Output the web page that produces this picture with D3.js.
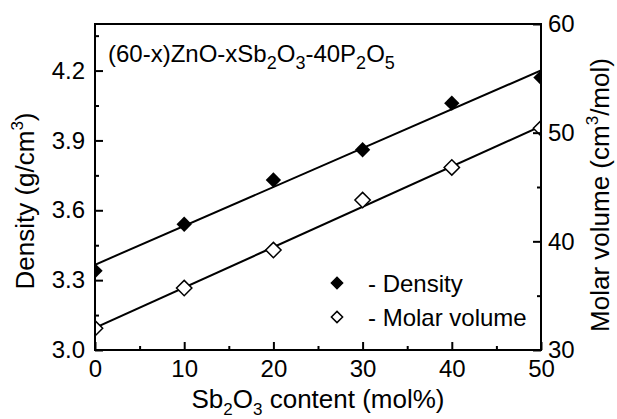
<!DOCTYPE html>
<html>
<head>
<meta charset="utf-8">
<script src="https://cdn.jsdelivr.net/npm/d3@7"></script>
<style>
  body { margin: 0; background: #fff; }
  text { font-family: 'Liberation Sans', Arial, sans-serif; fill: #000; }
</style>
</head>
<body>
<div id="chart"></div>
<script>
// Sb2O3 content (mol%)
const content = [0, 10, 20, 30, 40, 50]
// density g/cm3
const density = [3.34, 3.54, 3.73, 3.86, 4.06, 4.17]
// molar volume cm3/mol
const molarVolume = [32.0, 35.7, 39.2, 43.8, 46.8, 50.4]

const xTicks = [0, 10, 20, 30, 40, 50]
const yLeftTicks = [3.0, 3.3, 3.6, 3.9, 4.2]
const yRightTicks = [30, 40, 50, 60]
const legendItems = ['- Density', '- Molar volume']

const width = 617
const height = 419
const margin = { top: 24, right: 76, bottom: 69, left: 95 }
const w = width - margin.left - margin.right
const h = height - margin.top - margin.bottom

const svg = d3
  .select('#chart')
  .append('svg')
  .attr('width', width)
  .attr('height', height)

const g = svg.append('g').attr('transform', `translate(${margin.left},${margin.top})`)

const x = d3.scaleLinear().domain([0, 50]).range([0, w])
const yL = d3.scaleLinear().domain([3.0, 4.4]).range([h, 0])
const yR = d3.scaleLinear().domain([30, 60]).range([h, 0])

// least squares fit
function fit(xs, ys) {
  const mx = d3.mean(xs)
  const my = d3.mean(ys)
  let sxy = 0
  let sxx = 0
  xs.forEach((v, i) => {
    sxy += (v - mx) * (ys[i] - my)
    sxx += (v - mx) * (v - mx)
  })
  const slope = sxy / sxx
  return (v) => my + slope * (v - mx)
}

g.append('clipPath').attr('id', 'clip').append('rect').attr('width', w).attr('height', h)

const plot = g.append('g').attr('clip-path', 'url(#clip)')

const fitD = fit(content, density)
const fitM = fit(content, molarVolume)

plot
  .append('line')
  .attr('x1', x(0))
  .attr('y1', yL(fitD(0)))
  .attr('x2', x(50))
  .attr('y2', yL(fitD(50)))
  .attr('stroke', '#000')
  .attr('stroke-width', 2)

plot
  .append('line')
  .attr('x1', x(0))
  .attr('y1', yR(fitM(0)))
  .attr('x2', x(50))
  .attr('y2', yR(fitM(50)))
  .attr('stroke', '#000')
  .attr('stroke-width', 2)

const diamond = d3.symbol().type(d3.symbolDiamond2).size(150)

plot
  .selectAll('.dens')
  .data(content)
  .join('path')
  .attr('class', 'dens')
  .attr('d', diamond)
  .attr('transform', (d, i) => `translate(${x(d)},${yL(density[i])})`)
  .attr('fill', '#000')

plot
  .selectAll('.molar')
  .data(content)
  .join('path')
  .attr('class', 'molar')
  .attr('d', diamond)
  .attr('transform', (d, i) => `translate(${x(d)},${yR(molarVolume[i])})`)
  .attr('fill', '#fff')
  .attr('stroke', '#000')
  .attr('stroke-width', 1.5)

// axes, ticks inward
const fs = '24px'
g.append('g')
  .attr('transform', `translate(0,${h})`)
  .call(d3.axisBottom(x).tickValues(xTicks).tickSize(-8).tickPadding(10).tickFormat(d3.format('d')))
g.append('g')
  .attr('transform', `translate(0,${h})`)
  .call(d3.axisBottom(x).tickValues([5, 15, 25, 35, 45]).tickSize(-4).tickFormat(''))

g.append('g').call(d3.axisLeft(yL).tickValues(yLeftTicks).tickSize(-8).tickPadding(10).tickFormat(d3.format('.1f')))
g.append('g').call(d3.axisLeft(yL).tickValues([3.15, 3.45, 3.75, 4.05, 4.35]).tickSize(-4).tickFormat(''))

g.append('g')
  .attr('transform', `translate(${w},0)`)
  .call(d3.axisRight(yR).tickValues(yRightTicks).tickSize(-8).tickPadding(7).tickFormat(d3.format('d')))
g.append('g')
  .attr('transform', `translate(${w},0)`)
  .call(d3.axisRight(yR).tickValues([35, 45, 55]).tickSize(-4).tickFormat(''))

g.selectAll('.tick text').style('font-size', fs).attr('fill', '#000')
g.selectAll('.tick line').attr('stroke', '#000').attr('stroke-width', 2)
g.selectAll('.domain').remove()

// frame
g.append('rect')
  .attr('width', w)
  .attr('height', h)
  .attr('fill', 'none')
  .attr('stroke', '#000')
  .attr('stroke-width', 2)

// title
const title = g.append('text').attr('x', 13).attr('y', 38).style('font-size', '24px')
title.append('tspan').text('(60-x)ZnO-xSb')
title.append('tspan').text('2').style('font-size', '18px').attr('dy', 7)
title.append('tspan').text('O').attr('dy', -7)
title.append('tspan').text('3').style('font-size', '18px').attr('dy', 7)
title.append('tspan').text('-40P').attr('dy', -7)
title.append('tspan').text('2').style('font-size', '18px').attr('dy', 7)
title.append('tspan').text('O').attr('dy', -7)
title.append('tspan').text('5').style('font-size', '18px').attr('dy', 7)

// legend
const legend = g.append('g').attr('transform', `translate(${242},${259})`)
legend
  .selectAll('path')
  .data(legendItems)
  .join('path')
  .attr('d', d3.symbol().type(d3.symbolDiamond2).size(80))
  .attr('transform', (d, i) => `translate(0,${i * 34})`)
  .attr('fill', (d, i) => (i === 0 ? '#000' : '#fff'))
  .attr('stroke', '#000')
  .attr('stroke-width', 1.5)
legend
  .selectAll('text')
  .data(legendItems)
  .join('text')
  .attr('x', 31)
  .attr('y', (d, i) => i * 34 + 9)
  .style('font-size', '24px')
  .text((d) => d)

// axis titles
const xl = svg
  .append('text')
  .attr('x', 318)
  .attr('y', 408)
  .attr('text-anchor', 'middle')
  .style('font-size', '26px')
xl.append('tspan').text('Sb')
xl.append('tspan').text('2').style('font-size', '17px').attr('dy', 7)
xl.append('tspan').text('O').attr('dy', -7)
xl.append('tspan').text('3').style('font-size', '17px').attr('dy', 7)
xl.append('tspan').text(' content (mol%)').attr('dy', -7)

const yl = svg
  .append('text')
  .attr('transform', `translate(34,201) rotate(-90)`)
  .attr('text-anchor', 'middle')
  .style('font-size', '26px')
yl.append('tspan').text('Density (g/cm')
yl.append('tspan').text('3').style('font-size', '17px').attr('dy', -11)
yl.append('tspan').text(')').attr('dy', 11)

const yr = svg
  .append('text')
  .attr('transform', `translate(609,195) rotate(-90)`)
  .attr('text-anchor', 'middle')
  .style('font-size', '26px')
yr.append('tspan').text('Molar volume (cm')
yr.append('tspan').text('3').style('font-size', '17px').attr('dy', -11)
yr.append('tspan').text('/mol)').attr('dy', 11)
</script>
</body>
</html>
